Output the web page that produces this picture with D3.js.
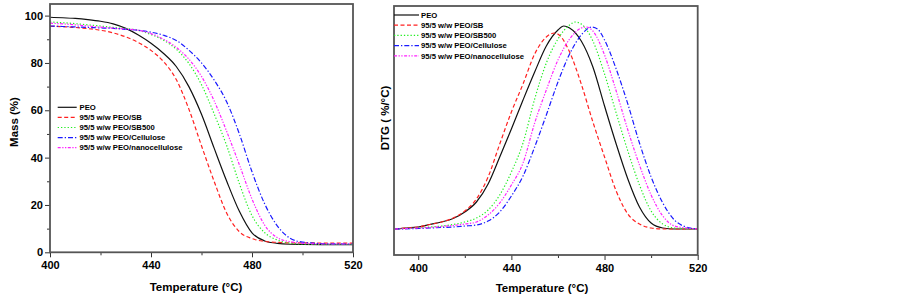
<!DOCTYPE html>
<html>
<head>
<meta charset="utf-8">
<script src="https://cdn.jsdelivr.net/npm/d3@7"></script>
<style>
  body { margin: 0; background: #fff; }
  svg { display: block; font-family: "Liberation Sans", Arial, sans-serif; }
  .tick text { font-weight: bold; font-size: 11px; fill: #000; }
  .tick line { stroke: #333; stroke-width: 1; }
</style>
</head>
<body>
<svg id="chart" width="902" height="298"></svg>
<script>
'use strict';

// series names, as in the legends
var seriesNames = ['PEO', '95/5 w/w PEO/SB', '95/5 w/w PEO/SB500', '95/5 w/w PEO/Cellulose', '95/5 w/w PEO/nanocellulose'];

// TGA: mass (%)
var tgaTemps     = [400, 405, 410, 415, 420, 425, 430, 435, 440, 445, 450, 455, 460, 465, 470, 475, 480, 485, 490, 495, 500, 510, 520];
var massPeo      = [99.3, 99.1, 98.8, 98.3, 97.6, 96.5, 94.6, 91.8, 88.3, 84.0, 78.5, 70.0, 58.3, 44.0, 30.0, 17.3, 8.2, 4.8, 3.8, 3.4, 3.3, 3.2, 3.2];
var massSb       = [95.5, 95.3, 95.0, 94.5, 93.8, 92.7, 91.0, 88.6, 85.3, 80.5, 73.0, 60.5, 45.0, 30.0, 16.5, 8.7, 5.8, 4.6, 4.2, 4.0, 4.0, 3.9, 3.9];
var massSb500    = [97.3, 97.0, 96.6, 96.1, 95.6, 95.0, 94.5, 93.8, 92.0, 89.6, 85.8, 79.8, 70.8, 58.5, 45.0, 29.0, 15.5, 8.3, 5.2, 3.9, 3.5, 3.3, 3.3];
var massCell     = [95.6, 95.4, 95.2, 95.0, 94.8, 94.6, 94.2, 93.8, 93.0, 91.7, 89.5, 85.4, 80.0, 72.8, 63.5, 50.0, 34.0, 20.5, 11.2, 6.0, 4.3, 3.6, 3.5];
var massNano     = [96.8, 96.5, 96.1, 95.6, 95.1, 94.7, 94.3, 93.8, 92.4, 90.0, 86.6, 81.6, 74.3, 64.0, 51.0, 37.0, 22.5, 11.5, 6.2, 4.5, 3.8, 3.5, 3.5];

// DTG: [temperature, rate] (arbitrary units, no y ticks)
var dtgPeo   = [[390,0],[395,0.01],[400,0.02],[405,0.045],[410,0.07],[415,0.105],[420,0.17],[425,0.27],[430,0.45],[435,0.72],[440,1.0],[445,1.29],[450,1.57],[455,1.83],[460,1.99],[462.5,2.03],[465,2.01],[470,1.88],[475,1.62],[480,1.23],[485,0.85],[490,0.5],[495,0.22],[500,0.06],[505,0.01],[510,0],[520,0]];
var dtgSb    = [[390,0],[395,0.01],[400,0.02],[405,0.045],[410,0.07],[415,0.11],[420,0.18],[425,0.3],[430,0.52],[435,0.85],[440,1.17],[445,1.45],[450,1.75],[455,1.92],[458.5,1.96],[461,1.93],[465,1.77],[470,1.45],[475,1.07],[480,0.72],[485,0.38],[490,0.15],[495,0.05],[500,0.01],[505,0],[520,0]];
var dtgSb500 = [[390,0],[395,0.005],[400,0.01],[405,0.02],[410,0.03],[415,0.045],[420,0.07],[425,0.11],[430,0.19],[435,0.34],[440,0.57],[445,0.86],[450,1.3],[455,1.66],[460,1.9],[465,2.04],[467.5,2.07],[470,2.05],[475,1.88],[480,1.55],[485,1.16],[490,0.78],[495,0.44],[500,0.18],[505,0.05],[510,0.01],[520,0]];
var dtgCell  = [[390,0],[400,0.005],[405,0.01],[410,0.015],[415,0.02],[420,0.03],[425,0.04],[430,0.08],[435,0.17],[440,0.33],[445,0.53],[450,0.82],[455,1.14],[460,1.47],[465,1.75],[470,1.94],[474.5,2.02],[477,2.0],[480,1.89],[485,1.6],[490,1.25],[495,0.86],[500,0.52],[505,0.26],[510,0.09],[515,0.02],[520,0]];
var dtgNano  = [[390,0],[395,0.005],[400,0.01],[405,0.015],[410,0.025],[415,0.035],[420,0.05],[425,0.07],[430,0.14],[435,0.26],[440,0.44],[445,0.66],[450,1.06],[455,1.39],[460,1.69],[465,1.9],[470,2.01],[472,2.02],[475,1.98],[480,1.74],[485,1.38],[490,0.99],[495,0.64],[500,0.34],[505,0.13],[510,0.03],[515,0.01],[520,0]];

var xMajor = [400, 440, 480, 520];
var xMinor = [420, 460, 500];
var massMajor = [0, 20, 40, 60, 80, 100];
var massMinor = [10, 30, 50, 70, 90];

var seriesColors = ['#111111', '#ff2020', '#22ee22', '#1a1aff', '#ff22ff'];
var seriesDash = [null, '4,2.5', '1.3,2', '5,2,1.3,2', '3,1.5,1.3,1.5,1.3,1.5'];

var svg = d3.select('#chart');

DrawTga();
DrawDtg();

function DrawTga()
{
	var x = d3.scaleLinear().domain([400, 520]).range([50, 353]);
	var y = d3.scaleLinear().domain([0, 104.9]).range([252.3, 4]);

	var g = svg.append('g');
	AddClip('clipL', 50, 4, 303, 248.3);

	var massSeries = [massPeo, massSb, massSb500, massCell, massNano];
	var line = d3.line()
		.x((d, i) => x(tgaTemps[i]))
		.y(d => y(d))
		.curve(d3.curveMonotoneX);

	g.append('g')
		.attr('clip-path', 'url(#clipL)')
		.selectAll('path')
		.data(massSeries)
		.join('path')
			.attr('fill', 'none')
			.attr('stroke', (d, i) => seriesColors[i])
			.attr('stroke-width', 1.2)
			.attr('stroke-dasharray', (d, i) => seriesDash[i])
			.attr('d', d => line(d));

	DrawXAxis(g, x, 252.3);

	g.append('g')
		.attr('transform', 'translate(50,0)')
		.call(d3.axisLeft(y).tickValues(massMajor).tickSize(5).tickPadding(2))
		.call(a => a.select('.domain').remove());
	g.append('g')
		.attr('transform', 'translate(50,0)')
		.call(d3.axisLeft(y).tickValues(massMinor).tickSize(3).tickFormat(''))
		.call(a => a.select('.domain').remove());

	DrawFrame(g, 50, 4, 303, 248.3);

	g.append('text')
		.attr('transform', 'translate(18,122) rotate(-90)')
		.attr('text-anchor', 'middle')
		.attr('font-weight', 'bold')
		.attr('font-size', '11.5px')
		.text('Mass (%)');

	g.append('text')
		.attr('x', 196)
		.attr('y', 291)
		.attr('text-anchor', 'middle')
		.attr('font-weight', 'bold')
		.attr('font-size', '11.5px')
		.text('Temperature (°C)');

	DrawLegend(g, 57.7, 76.7, 79.5, 107.3, 10.1);
}

function DrawDtg()
{
	var x = d3.scaleLinear().domain([389.6, 520]).range([394, 697.7]);
	var y = d3.scaleLinear().domain([-0.26, 2.23]).range([255, 6]);

	var g = svg.append('g');
	AddClip('clipR', 394, 6, 303.7, 249);

	var dtgSeries = [dtgPeo, dtgSb, dtgSb500, dtgCell, dtgNano];
	var line = d3.line()
		.x(d => x(d[0]))
		.y(d => y(d[1]))
		.curve(d3.curveMonotoneX);

	g.append('g')
		.attr('clip-path', 'url(#clipR)')
		.selectAll('path')
		.data(dtgSeries)
		.join('path')
			.attr('fill', 'none')
			.attr('stroke', (d, i) => seriesColors[i])
			.attr('stroke-width', 1.2)
			.attr('stroke-dasharray', (d, i) => seriesDash[i])
			.attr('d', d => line(d));

	DrawXAxis(g, x, 255);
	DrawFrame(g, 394, 6, 303.7, 249);

	g.append('text')
		.attr('transform', 'translate(389,118) rotate(-90)')
		.attr('text-anchor', 'middle')
		.attr('font-weight', 'bold')
		.attr('font-size', '11.5px')
		.text('DTG ( %/°C)');

	g.append('text')
		.attr('x', 542)
		.attr('y', 292)
		.attr('text-anchor', 'middle')
		.attr('font-weight', 'bold')
		.attr('font-size', '11.5px')
		.text('Temperature (°C)');

	DrawLegend(g, 394, 419, 421, 15, 10.2);
}

function DrawXAxis(g, x, nY)
{
	g.append('g')
		.attr('transform', `translate(0,${nY})`)
		.call(d3.axisBottom(x).tickValues(xMajor).tickSize(5).tickPadding(4))
		.call(a => a.select('.domain').remove());
	g.append('g')
		.attr('transform', `translate(0,${nY})`)
		.call(d3.axisBottom(x).tickValues(xMinor).tickSize(3).tickFormat(''))
		.call(a => a.select('.domain').remove());
}

function DrawFrame(g, nX, nY, nW, nH)
{
	g.append('rect')
		.attr('x', nX)
		.attr('y', nY)
		.attr('width', nW)
		.attr('height', nH)
		.attr('fill', 'none')
		.attr('stroke', '#555')
		.attr('stroke-width', 1.8);
}

function AddClip(strId, nX, nY, nW, nH)
{
	var defs = svg.select('defs');
	if (defs.empty() == true)
	{
		defs = svg.append('defs');
	}
	defs.append('clipPath')
		.attr('id', strId)
		.append('rect')
			.attr('x', nX)
			.attr('y', nY)
			.attr('width', nW)
			.attr('height', nH);
}

function DrawLegend(g, nX0, nX1, nTextX, nTop, nStep)
{
	var item = g.append('g')
		.selectAll('g')
		.data(seriesNames)
		.join('g')
			.attr('transform', (d, i) => `translate(0,${nTop + i * nStep})`);

	item.append('line')
		.attr('x1', nX0)
		.attr('x2', nX1)
		.attr('stroke', (d, i) => seriesColors[i])
		.attr('stroke-width', 1.2)
		.attr('stroke-dasharray', (d, i) => seriesDash[i]);

	item.append('text')
		.attr('x', nTextX)
		.attr('dy', '0.35em')
		.attr('font-weight', 'bold')
		.attr('font-size', '7.7px')
		.text(d => d);
}
</script>
</body>
</html>
